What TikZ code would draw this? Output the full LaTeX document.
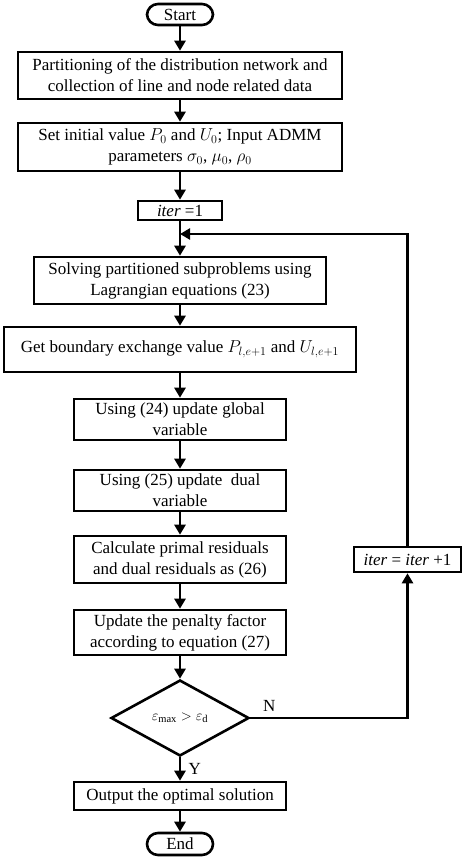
\documentclass[tikz,border=0pt]{standalone}
\usepackage{fontspec}
\setmainfont{Liberation Serif}
\usetikzlibrary{arrows.meta,shapes.geometric}
\tikzset{>={Triangle[length=10pt,width=11pt]}}
\tikzset{
  proc/.style={draw,line width=2.6pt,align=center,inner sep=0pt},
  term/.style={draw,line width=2.6pt,rounded corners=11pt,inner sep=0pt},
  flow/.style={->,line width=2.8pt},
}

\begin{document}
\begin{tikzpicture}[x=1pt,y=1pt,font=\fontsize{17}{21}\selectfont]
\useasboundingbox (0,0) rectangle (464,-859);
% main column
\node[term,minimum width=66pt,minimum height=21pt] (start) at (180,-14.5) {Start};
\node[proc,minimum width=324pt,minimum height=47pt] (part) at (180,-75.5)
  {Partitioning of the distribution network and\\collection of line and node related data};
\node[proc,minimum width=324pt,minimum height=48pt] (init) at (180,-147)
  {Set initial value $P_0$ and $U_0$; Input ADMM\\parameters $\sigma_0$, $\mu_0$, $\rho_0$};
\node[proc,minimum width=84pt,minimum height=19pt] (iterone) at (180,-210.5) {\textit{iter} =1};
\node[proc,minimum width=292pt,minimum height=47pt] (solve) at (180,-280.5)
  {Solving partitioned subproblems using\\Lagrangian equations (23)};
\node[proc,minimum width=352pt,minimum height=45pt] (bound) at (180,-349.5)
  {Get boundary exchange value $P_{l,e+1}$ and $U_{l,e+1}$};
\node[proc,minimum width=212pt,minimum height=41pt] (glob) at (180,-419.5)
  {Using (24) update global\\variable};
\node[proc,minimum width=212pt,minimum height=41pt] (dual) at (180,-490.5)
  {Using (25) update~ dual\\variable};
\node[proc,minimum width=212pt,minimum height=47pt] (resid) at (180,-559.5)
  {Calculate primal residuals\\and dual residuals as (26)};
\node[proc,minimum width=212pt,minimum height=45pt] (pen) at (180,-632.5)
  {Update the penalty factor\\according to equation (27)};
\node[draw,line width=2.6pt,diamond,aspect=1.8,inner sep=0pt,
  minimum width=138pt,minimum height=76pt,font=\fontsize{15}{17}\selectfont] (check) at (180,-718)
  {$\varepsilon_{\max}>\varepsilon_{\mathrm{d}}$};
\node[proc,minimum width=212pt,minimum height=28pt] (out) at (180,-796)
  {Output the optimal solution};
\node[term,minimum width=66pt,minimum height=22pt] (end) at (180,-844) {End};
% loop back
\node[proc,minimum width=107pt,minimum height=25pt] (inc) at (407.5,-559.5)
  {\textit{iter} = \textit{iter} +1};
\coordinate (join) at (180,-234);

\draw[flow] (start) -- (part);
\draw[flow] (part) -- (init);
\draw[flow] (init) -- (iterone);
\draw[flow] (iterone) -- (solve);
\draw[flow] (solve) -- (bound);
\draw[flow] (bound) -- (glob);
\draw[flow] (glob) -- (dual);
\draw[flow] (dual) -- (resid);
\draw[flow] (resid) -- (pen);
\draw[flow] (pen) -- (check);
\draw[flow] (check) -- node[right,pos=0.5,xshift=4pt] {Y} (out);
\draw[flow] (out) -- (end);
\draw[flow] (check.east) -- node[above,pos=0.12,yshift=2pt] {N} (check.east -| inc.south) -- (inc.south);
\draw[flow] (inc.north) |- (join);
\end{tikzpicture}
\end{document}
